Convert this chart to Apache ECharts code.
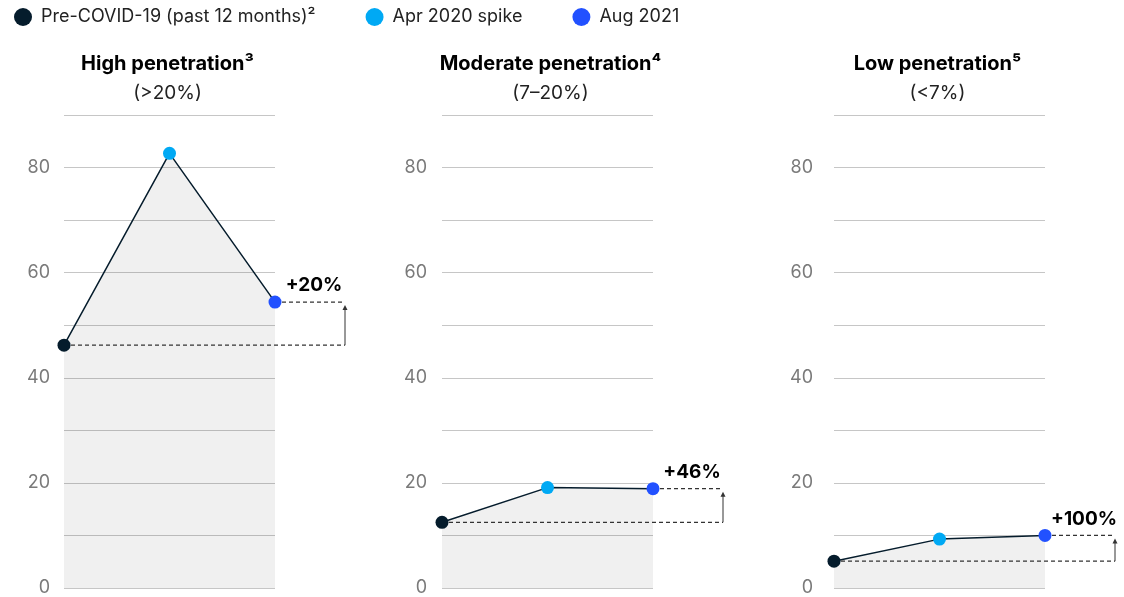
<!DOCTYPE html>
<html>
<head>
<meta charset="utf-8">
<script src="https://cdn.jsdelivr.net/npm/echarts@6/dist/echarts.min.js"></script>
<style>
html,body{margin:0;padding:0;background:#fff;}
#chart{width:1124px;height:597px;}
</style>
</head>
<body>
<div id="chart"></div>
<script>
const categories = ['Pre-COVID-19', 'Apr 2020 spike', 'Aug 2021'];
const legendNames = ['Pre-COVID-19 (past 12 months)²', 'Apr 2020 spike', 'Aug 2021'];
const panelTitles = ['High penetration³', 'Moderate penetration⁴', 'Low penetration⁵'];
const panelSubtitles = ['(>20%)', '(7–20%)', '(<7%)'];
const preCovid = [46.2, 12.5, 5.1];
const aprSpike = [82.7, 19.1, 9.3];
const aug2021 = [54.4, 18.9, 10.0];
const changeLabels = ['+20%', '+46%', '+100%'];
const yMin = 0, yMax = 90, yStep = 10, yLabelStep = 20;

const FONT = 'Inter, "Noto Sans", sans-serif';
const pointColors = ['#051c2c', '#00a9f4', '#2251ff'];
const gridLefts = [64, 442, 834];
const gridWidth = 211;
const labelMargins = [14, 15, 21];
const titleShift = [-2, 3, -2];

const chart = echarts.init(document.getElementById('chart'));

const grids = [], xAxes = [], yAxes = [], titles = [], series = [];
const periodValues = [preCovid, aprSpike, aug2021];

for (let i = 0; i < 3; i++) {
  grids.push({left: gridLefts[i], width: gridWidth, top: 115, height: 475, containLabel: false});
  xAxes.push({type: 'category', gridIndex: i, data: categories, boundaryGap: false, show: false});
  yAxes.push({
    type: 'value', gridIndex: i, min: yMin, max: yMax, interval: yStep,
    axisLine: {show: false}, axisTick: {show: false},
    splitLine: {show: true, lineStyle: {color: '#c6c6c6', width: 1}},
    axisLabel: {
      margin: labelMargins[i], color: '#7a7a7a', fontSize: 18, fontFamily: FONT,
      formatter: v => (v % yLabelStep === 0 && v < yMax ? String(v) : '')
    }
  });
  titles.push({
    text: panelTitles[i], subtext: panelSubtitles[i],
    left: gridLefts[i] + gridWidth / 2 + titleShift[i], textAlign: 'center', top: 54, itemGap: 10, padding: 0,
    textStyle: {fontSize: 20, fontWeight: 'bold', color: '#000', fontFamily: FONT},
    subtextStyle: {fontSize: 19, color: '#222', fontFamily: FONT}
  });
  series.push({
    type: 'line', xAxisIndex: i, yAxisIndex: i,
    data: [preCovid[i], aprSpike[i], aug2021[i]],
    symbol: 'none', lineStyle: {color: '#051c2c', width: 1.5},
    areaStyle: {color: 'rgba(0,0,0,0.085)', origin: 'start'},
    z: 2, silent: true
  });
  const lbl = changeLabels[i];
  series.push({
    type: 'custom', xAxisIndex: i, yAxisIndex: i, z: 3, silent: true, clip: false,
    data: [[0, preCovid[i], aug2021[i]]],
    renderItem: function (params, api) {
      const p0 = api.coord([0, api.value(1)]);
      const p2 = api.coord([2, api.value(2)]);
      const xEnd = p2[0] + 70;
      const dash = {stroke: '#333', lineWidth: 1.2, lineDash: [4, 3]};
      return {type: 'group', children: [
        {type: 'line', shape: {x1: p0[0], y1: p0[1], x2: xEnd, y2: p0[1]}, style: dash},
        {type: 'line', shape: {x1: p2[0], y1: p2[1], x2: xEnd, y2: p2[1]}, style: dash},
        {type: 'line', shape: {x1: xEnd, y1: p0[1], x2: xEnd, y2: p2[1] + 7}, style: {stroke: '#333', lineWidth: 1}},
        {type: 'polygon', shape: {points: [[xEnd, p2[1] + 3], [xEnd - 2.5, p2[1] + 8], [xEnd + 2.5, p2[1] + 8]]}, style: {fill: '#333'}},
        {type: 'text', style: {text: lbl, x: p2[0] + 39, y: p2[1] - 16.5, align: 'center', verticalAlign: 'middle',
          font: 'bold 19px ' + FONT, fill: '#000'}}
      ]};
    }
  });
  for (let k = 0; k < 3; k++) {
    const d = [null, null, null];
    d[k] = periodValues[k][i];
    series.push({
      type: 'scatter', name: legendNames[k], xAxisIndex: i, yAxisIndex: i,
      data: d, symbol: 'circle', symbolSize: 13,
      itemStyle: {color: pointColors[k], opacity: 1}, z: 5, silent: true
    });
  }
}

chart.setOption({
  animation: false,
  backgroundColor: '#fff',
  color: pointColors,
  title: titles,
  legend: {
    data: legendNames.map(n => ({name: n, icon: 'circle'})),
    left: 9, top: 3, itemWidth: 18, itemHeight: 18, itemGap: 50,
    textStyle: {fontSize: 18, color: '#222', fontFamily: FONT, padding: [0, 0, 0, 4]},
    selectedMode: false
  },
  grid: grids, xAxis: xAxes, yAxis: yAxes, series: series
});
</script>
</body>
</html>
